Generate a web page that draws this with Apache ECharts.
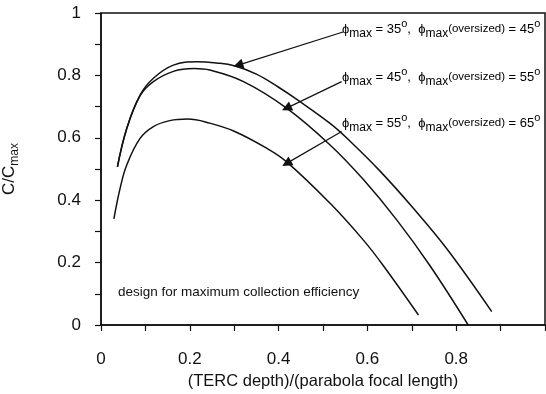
<!DOCTYPE html>
<html>
<head>
<meta charset="UTF-8">
<title>C/Cmax vs TERC depth</title>
<script src="https://cdn.jsdelivr.net/npm/echarts@6/dist/echarts.min.js"></script>
<style>
    body { margin: 0; background: #fff; }
    #chart { width: 546px; height: 394px; }
</style>
</head>
<body>
<div id="chart"></div>
<script>
    // curve data: [depth/focal length, C/Cmax]
    const curve35 = [[0.037, 0.507], [0.058, 0.630], [0.088, 0.737], [0.118, 0.791], [0.163, 0.833],
        [0.216, 0.844], [0.26, 0.840], [0.30, 0.831], [0.35, 0.804], [0.40, 0.762], [0.441, 0.723],
        [0.516, 0.646], [0.561, 0.589], [0.628, 0.494], [0.703, 0.375], [0.778, 0.246], [0.880, 0.043]];
    const curve45 = [[0.037, 0.507], [0.058, 0.630], [0.088, 0.735], [0.118, 0.780], [0.163, 0.813],
        [0.21, 0.822], [0.245, 0.817], [0.321, 0.780], [0.418, 0.695], [0.516, 0.577], [0.591, 0.466],
        [0.666, 0.337], [0.741, 0.190], [0.827, 0.0]];
    const curve55 = [[0.029, 0.340], [0.043, 0.438], [0.058, 0.513], [0.088, 0.598], [0.118, 0.636],
        [0.155, 0.655], [0.195, 0.660], [0.245, 0.647], [0.30, 0.621], [0.37, 0.569], [0.418, 0.523],
        [0.516, 0.390], [0.591, 0.272], [0.636, 0.190], [0.715, 0.032]];

    // arrows from the labels to the curves: [from, to]
    const arrows = [
        [[0.545, 0.939], [0.309, 0.833]],
        [[0.542, 0.780], [0.418, 0.695]],
        [[0.542, 0.620], [0.418, 0.518]]
    ];
    const labelAngles = [[35, 45], [45, 55], [55, 65]];

    const font = 'Liberation Sans, Arial, sans-serif';
    const ink = '#111';

    const chart = echarts.init(document.getElementById('chart'));

    function curveSeries(data) {
        return {
            type: 'line',
            data: data,
            smooth: 0.4,
            showSymbol: false,
            lineStyle: { color: ink, width: 1.5 }
        };
    }

    const richStyle = {
        p: { fontSize: 13, fontFamily: font, color: ink, lineHeight: 22, verticalAlign: 'middle' },
        s: { fontSize: 12, fontFamily: font, color: ink, lineHeight: 11, verticalAlign: 'bottom' },
        u: { fontSize: 11, fontFamily: font, color: ink, lineHeight: 10, verticalAlign: 'top' },
        o: { fontSize: 11.5, fontFamily: font, color: ink, lineHeight: 22, verticalAlign: 'middle' }
    };
    const labelY = [29, 77, 123];
    const labels = labelAngles.map((a, i) => ({
        type: 'text',
        x: 342,
        y: labelY[i],
        style: {
            text: '{p|ϕ}{s|max}{p| = ' + a[0] + '}{u|o}{p|,  ϕ}{s|max}{o|(oversized)}{p| = ' + a[1] + '}{u|o}',
            rich: richStyle,
            verticalAlign: 'middle'
        }
    }));

    const option = {
        animation: false,
        grid: {
            left: 101, right: 1, top: 13, bottom: 69,
            containLabel: false, outerBoundsMode: 'none',
            show: true, borderColor: ink, borderWidth: 1.5
        },
        xAxis: {
            type: 'value',
            min: 0,
            max: 1,
            interval: 0.2,
            name: '(TERC depth)/(parabola focal length)',
            nameLocation: 'middle',
            nameGap: 44,
            nameTextStyle: { fontSize: 16.5, fontFamily: font, color: ink },
            axisLine: { lineStyle: { color: ink, width: 1.5 } },
            axisTick: { inside: false, length: 6, lineStyle: { color: ink, width: 1.2 } },
            minorTick: { show: true, splitNumber: 2, length: 6, lineStyle: { color: ink, width: 1.2 } },
            splitLine: { show: false },
            axisLabel: {
                margin: 26,
                fontSize: 17,
                fontFamily: font,
                color: ink,
                formatter: v => (v >= 1 ? '' : String(+v.toFixed(1)))
            }
        },
        yAxis: {
            type: 'value',
            min: 0,
            max: 1,
            interval: 0.2,
            name: '{a|C/C}{b|max}',
            nameLocation: 'middle',
            nameRotate: 90,
            nameGap: 80,
            nameTextStyle: {
                rich: {
                    a: { fontSize: 17, fontFamily: font, color: ink, lineHeight: 24, verticalAlign: 'middle' },
                    b: { fontSize: 12, fontFamily: font, color: ink, lineHeight: 12, verticalAlign: 'bottom' }
                }
            },
            axisLine: { lineStyle: { color: ink, width: 1.5 } },
            axisTick: { inside: false, length: 6, lineStyle: { color: ink, width: 1.2 } },
            minorTick: { show: true, splitNumber: 2, length: 6, lineStyle: { color: ink, width: 1.2 } },
            splitLine: { show: false },
            axisLabel: {
                margin: 20,
                fontSize: 17,
                fontFamily: font,
                color: ink,
                formatter: v => String(+v.toFixed(1))
            }
        },
        series: [
            Object.assign(curveSeries(curve35), {
                markLine: {
                    silent: true,
                    symbol: ['none', 'triangle'],
                    symbolSize: 10,
                    label: { show: false },
                    emphasis: { disabled: true },
                    lineStyle: { color: ink, width: 1.2, type: 'solid' },
                    data: arrows.map(a => [{ coord: a[0] }, { coord: a[1] }])
                }
            }),
            curveSeries(curve45),
            curveSeries(curve55)
        ],
        graphic: labels.concat([{
            type: 'text',
            x: 118,
            y: 292,
            style: {
                text: 'design for maximum collection efficiency',
                font: '13.5px ' + font,
                fill: ink,
                verticalAlign: 'middle'
            }
        }])
    };

    chart.setOption(option);
</script>
</body>
</html>
